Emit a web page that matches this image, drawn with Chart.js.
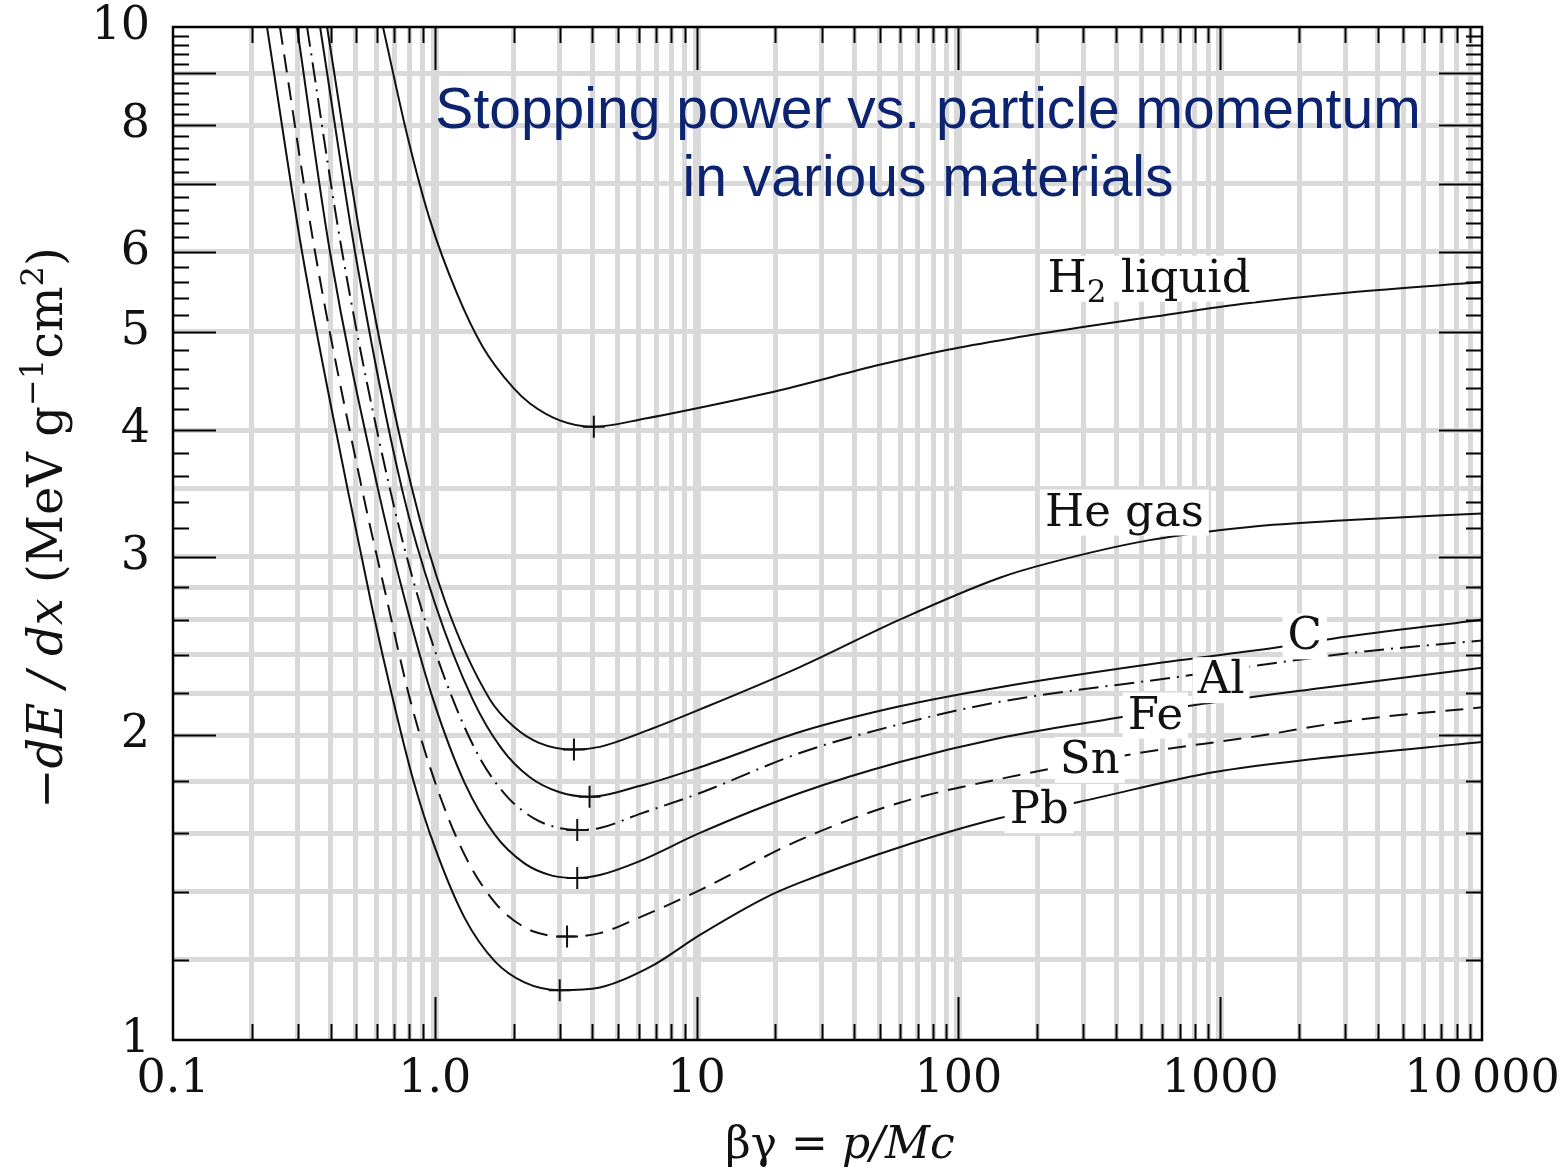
<!DOCTYPE html>
<html>
<head>
<meta charset="utf-8">
<script src="https://cdn.jsdelivr.net/npm/chart.js@4.4.1/dist/chart.umd.min.js"></script>
<style>
  html, body { margin: 0; padding: 0; background: #fff; }
  #wrap { width: 1562px; height: 1170px; }
</style>
</head>
<body>
<div id="wrap"><canvas id="chart" width="1562" height="1170"></canvas></div>
<script>
// ========== DATEN: βγ und -dE/dx je Material ==========
const h2Bg   = [0.634, 0.79, 0.958, 1.214, 1.527, 2.0, 2.31, 3.0, 4.05, 6.45, 9.42, 20.8, 50, 90.2, 161, 290, 537, 1295, 3120, 10000];
const h2Dedx = [10, 7.76, 6.45, 5.46, 4.83, 4.40, 4.25, 4.09, 4.03, 4.11, 4.19, 4.38, 4.64, 4.80, 4.93, 5.05, 5.17, 5.34, 5.47, 5.60];

const heBg   = [0.3877, 0.5314, 0.8184, 1.1, 1.6215, 2.0, 2.5, 3.4, 4.27, 6.45, 10.3, 24.8, 59.7, 144, 223, 537, 1295, 3120, 10000];
const heDedx = [10, 6.0, 3.5, 2.7, 2.17, 2.039, 1.965, 1.935, 1.947, 2.02, 2.12, 2.334, 2.6, 2.86, 2.958, 3.115, 3.21, 3.26, 3.31];

const cBg    = [0.3646, 0.4956, 0.749, 1.0, 1.3937, 1.8, 2.3, 3.0, 3.9, 6.0, 10.3, 24.8, 59.7, 144, 506, 1686, 2686, 10000];
const cDedx  = [10, 6.0, 3.5, 2.7, 2.17, 1.939, 1.818, 1.756, 1.738, 1.78, 1.859, 2.014, 2.135, 2.23, 2.344, 2.443, 2.49, 2.60];

const alBg   = [0.3252, 0.4425, 0.6738, 0.88, 1.1713, 1.5, 1.9, 2.4, 2.9, 3.5, 4.27, 6.0, 10.3, 24.8, 59.7, 144, 693, 1626, 3340, 10000];
const alDedx = [10, 6.0, 3.5, 2.69, 2.17, 1.89, 1.736, 1.654, 1.622, 1.612, 1.619, 1.67, 1.753, 1.92, 2.05, 2.157, 2.283, 2.356, 2.414, 2.48];

const feBg   = [0.2976, 0.3976, 0.6063, 0.78, 0.9845, 1.3, 1.7, 2.2, 2.8, 3.5, 4.27, 6.0, 10.3, 24.8, 59.7, 144, 405, 791, 2440, 10000];
const feDedx = [10, 6.0, 3.5, 2.68, 2.17, 1.794, 1.593, 1.494, 1.453, 1.445, 1.455, 1.5, 1.601, 1.753, 1.881, 1.987, 2.08, 2.14, 2.226, 2.331];

const snBg   = [0.2561, 0.3487, 0.527, 0.65, 0.804, 1.0, 1.3, 1.7, 2.2, 2.7, 3.2, 4.27, 6.0, 10.3, 24.8, 59.7, 144, 491, 1303, 3340, 10000];
const snDedx = [10, 6.0, 3.5, 2.75, 2.17, 1.80, 1.523, 1.366, 1.292, 1.269, 1.265, 1.275, 1.32, 1.406, 1.576, 1.715, 1.81, 1.92, 1.99, 2.07, 2.13];

const pbBg   = [0.2286, 0.311, 0.4642, 0.58, 0.6917, 0.83, 1.0, 1.3, 1.7, 2.2, 3.0, 4.27, 6.62, 10.3, 18.5, 24.8, 59.7, 144, 288, 953, 2440, 10000];
const pbDedx = [10, 6.0, 3.5, 2.65, 2.17, 1.80, 1.55, 1.32, 1.195, 1.14, 1.12, 1.127, 1.18, 1.27, 1.384, 1.43, 1.55, 1.656, 1.718, 1.839, 1.898, 1.969];

// Minimum-ionisierende Stelle je Kurve (H2, He, C, Al, Fe, Sn, Pb)
const minBg   = [4.05, 3.4, 3.9, 3.5, 3.5, 3.2, 3.0];
const minDedx = [4.03, 1.935, 1.738, 1.612, 1.445, 1.265, 1.12];

// Achsen: Gitterwerte und Beschriftungen
const xDekaden = [0.1, 1, 10, 100, 1000];
const xTickWerte = [];
xDekaden.forEach(d => { for (let m = 1; m <= 9; m++) xTickWerte.push(+(d * m).toPrecision(6)); });
xTickWerte.push(10000);
const xLabels = { 0.1: '0.1', 1: '1.0', 10: '10', 100: '100', 1000: '1000', 10000: '10\u2009000' };

const yTickWerte = [1, 1.2, 1.4, 1.6, 1.8, 2, 2.2, 2.4, 2.6, 2.8, 3, 3.5, 4, 5, 6, 7, 8, 9, 10];
const yLabels = { 1: '1', 2: '2', 3: '3', 4: '4', 5: '5', 6: '6', 8: '8', 10: '10' };

const titelZeilen = ['Stopping power vs. particle momentum', 'in various materials'];

// ========== HILFSFUNKTIONEN ==========
const SERIF = '"DejaVu Serif", serif';
const punkte = (bg, werte) => bg.map((v, i) => ({ x: v, y: werte[i] }));

function kurve(label, bg, werte, dash) {
  return {
    label,
    data: punkte(bg, werte),
    showLine: true,
    borderColor: '#111',
    borderWidth: 2,
    borderDash: dash || [],
    pointRadius: 0,
    cubicInterpolationMode: 'monotone',
    fill: false
  };
}

// Text aus mehreren Stücken (kursiv, hochgestellt ...) nebeneinander setzen
function richText(ctx, teile, x, y, align) {
  let breite = 0;
  teile.forEach(t => { ctx.font = t.font; t.w = ctx.measureText(t.t).width; breite += t.w; });
  let cx = align === 'center' ? x - breite / 2 : (align === 'right' ? x - breite : x);
  teile.forEach(t => { ctx.font = t.font; ctx.fillText(t.t, cx, y + (t.dy || 0)); cx += t.w; });
  return breite;
}

// ========== PLUGIN: Rahmen, Striche, Beschriftungen ==========
const rahmenPlugin = {
  id: 'rahmen',
  afterDatasetsDraw(chart) {
    const ctx = chart.ctx;
    const xs = chart.scales.x, ys = chart.scales.y;
    const { left, right, top, bottom } = chart.chartArea;

    ctx.save();
    ctx.strokeStyle = '#000';
    ctx.lineWidth = 2;
    ctx.beginPath();

    // x-Striche oben und unten
    xTickWerte.forEach(v => {
      if (v <= 0.1 || v >= 10000) return;
      const px = Math.round(xs.getPixelForValue(v)) + 0.5;
      const lang = xDekaden.includes(v) ? 43 : 16;
      ctx.moveTo(px, bottom); ctx.lineTo(px, bottom - lang);
      ctx.moveTo(px, top); ctx.lineTo(px, top + lang);
    });

    // y-Striche links und rechts, alle 0.2
    for (let i = 6; i < 50; i++) {
      const v = i / 5;
      const py = Math.round(ys.getPixelForValue(v)) + 0.5;
      const lang = (i % 5 === 0) ? 43 : 16;
      ctx.moveTo(left, py); ctx.lineTo(left + lang, py);
      ctx.moveTo(right, py); ctx.lineTo(right - lang, py);
    }
    ctx.stroke();

    ctx.lineWidth = 2.5;
    ctx.strokeRect(left, top, right - left, bottom - top);

    // Materialnamen mit weißem Hintergrund
    const namen = [
      { teile: [{ t: 'H', font: '45px ' + SERIF }, { t: '2', font: '31px ' + SERIF, dy: 10 }, { t: ' liquid', font: '45px ' + SERIF }], bg: 219, wert: 5.48 },
      { teile: [{ t: 'He gas', font: '45px ' + SERIF }], bg: 214, wert: 3.22 },
      { teile: [{ t: 'C', font: '45px ' + SERIF }], bg: 1807, wert: 2.43 },
      { teile: [{ t: 'Al', font: '45px ' + SERIF }], bg: 820, wert: 2.2 },
      { teile: [{ t: 'Fe', font: '45px ' + SERIF }], bg: 443, wert: 2.03 },
      { teile: [{ t: 'Sn', font: '45px ' + SERIF }], bg: 244, wert: 1.835 },
      { teile: [{ t: 'Pb', font: '45px ' + SERIF }], bg: 157, wert: 1.637 }
    ];
    ctx.textBaseline = 'alphabetic';
    namen.forEach(n => {
      const px = xs.getPixelForValue(n.bg);
      const py = ys.getPixelForValue(n.wert);
      let w = 0;
      n.teile.forEach(t => { ctx.font = t.font; w += ctx.measureText(t.t).width; });
      ctx.fillStyle = '#fff';
      ctx.fillRect(px - 5, py - 36, w + 10, 46);
      ctx.fillStyle = '#111';
      richText(ctx, n.teile, px, py, 'left');
    });
    ctx.restore();
  },
  afterDraw(chart) {
    const ctx = chart.ctx;
    ctx.save();

    // Titel
    ctx.fillStyle = '#0c2470';
    ctx.font = '57px "Liberation Sans", Arial, sans-serif';
    ctx.textAlign = 'center';
    ctx.textBaseline = 'alphabetic';
    ctx.fillText(titelZeilen[0], 928, 128);
    ctx.fillText(titelZeilen[1], 928, 196);

    // x-Achsentitel
    ctx.fillStyle = '#111';
    ctx.textAlign = 'left';
    richText(ctx, [
      { t: 'βγ = ', font: '44px ' + SERIF },
      { t: 'p/Mc', font: 'italic 44px ' + SERIF }
    ], 840, 1158, 'center');

    // y-Achsentitel (gedreht)
    ctx.translate(62, 528);
    ctx.rotate(-Math.PI / 2);
    richText(ctx, [
      { t: '−', font: '48px ' + SERIF },
      { t: 'dE / dx', font: 'italic 48px ' + SERIF },
      { t: ' (MeV g', font: '48px ' + SERIF },
      { t: '−1', font: '32px ' + SERIF, dy: -19 },
      { t: 'cm', font: '48px ' + SERIF },
      { t: '2', font: '32px ' + SERIF, dy: -19 },
      { t: ')', font: '48px ' + SERIF }
    ], 0, 0, 'center');
    ctx.restore();
  }
};

// ========== CHART ==========
const ctx = document.getElementById('chart').getContext('2d');
new Chart(ctx, {
  type: 'scatter',
  data: {
    datasets: [
      kurve('H2 liquid', h2Bg, h2Dedx),
      kurve('He gas', heBg, heDedx),
      kurve('C', cBg, cDedx),
      kurve('Al', alBg, alDedx, [20, 7, 2, 7]),
      kurve('Fe', feBg, feDedx),
      kurve('Sn', snBg, snDedx, [18, 10]),
      kurve('Pb', pbBg, pbDedx),
      {
        label: 'Minimum',
        data: punkte(minBg, minDedx),
        showLine: false,
        pointStyle: 'cross',
        pointRadius: 11,
        pointBorderWidth: 2,
        borderColor: '#111',
        backgroundColor: '#111'
      }
    ]
  },
  options: {
    responsive: false,
    devicePixelRatio: 1,
    animation: false,
    layout: { padding: { top: 27, right: 80, left: 0, bottom: 0 } },
    plugins: {
      legend: { display: false },
      tooltip: { enabled: false }
    },
    scales: {
      x: {
        type: 'logarithmic',
        min: 0.1,
        max: 10000,
        afterFit: s => { s.height = 130; s.paddingLeft = 0; s.paddingRight = 0; },
        afterBuildTicks: s => { s.ticks = xTickWerte.map(v => ({ value: v })); },
        border: { display: false },
        grid: {
          drawTicks: false,
          color: '#d9d9d9',
          lineWidth: c => {
            const v = c.tick ? c.tick.value : 0;
            if (v <= 0.1 || v >= 10000) return 0;
            return xDekaden.includes(v) ? 8 : 5;
          }
        },
        ticks: {
          autoSkip: false,
          maxRotation: 0,
          padding: 12,
          color: '#111',
          font: { family: 'DejaVu Serif', size: 46 },
          callback: v => xLabels[v] ?? ''
        }
      },
      y: {
        type: 'logarithmic',
        min: 1,
        max: 10,
        afterFit: s => { s.width = 173; s.paddingTop = 0; s.paddingBottom = 0; },
        afterBuildTicks: s => { s.ticks = yTickWerte.map(v => ({ value: v })); },
        border: { display: false },
        grid: {
          drawTicks: false,
          color: '#d9d9d9',
          lineWidth: c => {
            const v = c.tick ? c.tick.value : 0;
            return (v <= 1 || v >= 10) ? 0 : 5;
          }
        },
        ticks: {
          autoSkip: false,
          padding: 23,
          color: '#111',
          font: { family: 'DejaVu Serif', size: 46 },
          callback: v => yLabels[v] ?? ''
        }
      }
    }
  },
  plugins: [rahmenPlugin]
});
</script>
</body>
</html>
